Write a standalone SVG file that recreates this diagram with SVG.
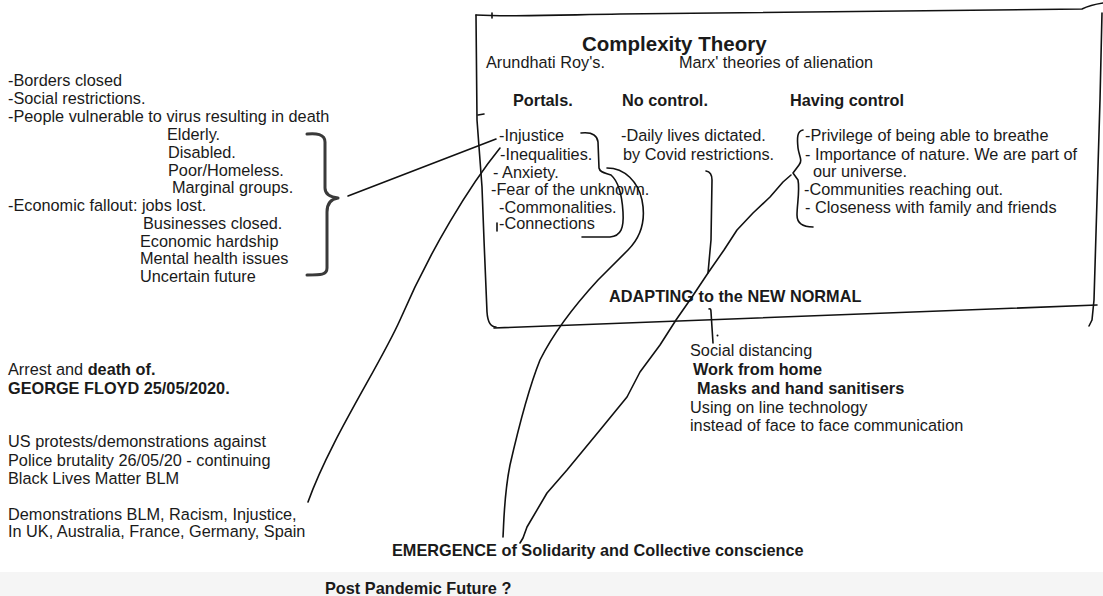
<svg xmlns="http://www.w3.org/2000/svg" width="1103" height="596" viewBox="0 0 1103 596">
<style>
text{font-family:"Liberation Sans",Arial,Helvetica,sans-serif;font-size:16.3px;fill:#1a1a1a}
.b{font-weight:bold}
.h{font-weight:bold;font-size:20.5px}
.ln{fill:none;stroke:#111;stroke-width:1.6;stroke-linecap:round;stroke-linejoin:round}
.br{fill:none;stroke:#3a3a3a;stroke-width:3;stroke-linecap:round;stroke-linejoin:round}
</style>
<rect x="0" y="0" width="1103" height="596" fill="#ffffff"/>
<rect x="0" y="572" width="1103" height="24" fill="#f5f5f5"/>

<g id="box">
<path class="ln" d="M476,15 C520,17 560,15 620,14 C800,12 950,11 1082,9 Q1090,5 1103,3"/>
<path class="ln" d="M492,13 L492,18"/>
<path class="ln" d="M476,15 L477,120 L482,187 L484,240 L487,312 Q488,327 496,327"/>
<path class="ln" d="M478,115 L484,114"/>
<path class="ln" d="M494,328 C700,322 900,314 1097,305"/>
<path class="ln" d="M1102,13 L1100,100 L1097,200 L1094,300 L1092,320 L1089,326"/>
</g>

<g id="left-list">
<text x="8" y="86">-Borders closed</text>
<text x="8" y="104">-Social restrictions.</text>
<text x="8" y="122">-People vulnerable to virus resulting in death</text>
<text x="167" y="140">Elderly.</text>
<text x="168" y="158">Disabled.</text>
<text x="168" y="176">Poor/Homeless.</text>
<text x="172" y="193">Marginal groups.</text>
<text x="8" y="211">-Economic fallout: jobs lost.</text>
<text x="143" y="229">Businesses closed.</text>
<text x="140" y="247">Economic hardship</text>
<text x="140" y="264">Mental health issues</text>
<text x="140" y="282">Uncertain future</text>
<path class="br" d="M307,134 C316,133 325,134 325,142 L325,188 C325,194 330,197 338,198 C331,199 327,204 327,212 L327,268 C327,275 321,275 307,275"/>
</g>

<g id="header">
<text class="h" x="582" y="50.5">Complexity Theory</text>
<text x="486" y="68">Arundhati Roy's.</text>
<text x="679" y="68">Marx' theories of alienation</text>
</g>

<g id="portals">
<text class="b" x="513" y="105.5">Portals.</text>
<text x="499" y="140.5">-Injustice</text>
<text x="500" y="159.5">-Inequalities.</text>
<text x="493" y="177.5">- Anxiety.</text>
<text x="491" y="194.5">-Fear of the unknown.</text>
<text x="499" y="212.5">-Commonalities.</text>
<text x="499" y="228.5">-Connections</text>
<path class="ln" d="M497,223 L497,231"/>
<path class="ln" d="M581,133 C590,132 597,134 598,142 L599,168 C600,173 606,173 611,175 C619,182 622,195 623,212 C624,228 621,236 610,237 L582,237"/>
</g>

<g id="no-control">
<text class="b" x="622" y="105.5">No control.</text>
<text x="621" y="140.5">-Daily lives dictated.</text>
<text x="623" y="159.5">by Covid restrictions.</text>
<path class="ln" d="M706,171 Q712,172 712,180 L711,240 L708,273"/>
</g>

<g id="having-control">
<text class="b" x="790" y="105.5">Having control</text>
<text x="805" y="140.5">-Privilege of being able to breathe</text>
<text x="805" y="159.5">- Importance of nature. We are part of</text>
<text x="813" y="177">our universe.</text>
<text x="804" y="194.5">-Communities reaching out.</text>
<text x="805" y="212.5">- Closeness with family and friends</text>
<path class="ln" d="M803,130 C797,131 797,138 798,148 C799,156 803,160 799,165 L793,173 L798,180 C800,190 797,205 797,215 C797,224 804,227 813,227"/>
</g>

<g id="adapting">
<text class="b" x="609" y="302">ADAPTING to the NEW NORMAL</text>
</g>

<g id="adapting-list">
<path class="ln" d="M709,309 Q711,308 711,312 L713,343"/>
<circle cx="717.5" cy="335.5" r="1" fill="#111"/>
<text x="690" y="355.5">Social distancing</text>
<text class="b" x="693" y="374.5">Work from home</text>
<text class="b" x="697" y="393.5">Masks and hand sanitisers</text>
<text x="690" y="413">Using on line technology</text>
<text x="690" y="430.5">instead of face to face communication</text>
</g>

<g id="george-floyd">
<text x="8" y="375">Arrest and <tspan class="b">death of.</tspan></text>
<text class="b" x="8" y="394">GEORGE FLOYD 25/05/2020.</text>
</g>

<g id="protests">
<text x="8" y="447">US protests/demonstrations against</text>
<text x="8" y="465.5">Police brutality 26/05/20 - continuing</text>
<text x="8" y="484">Black Lives Matter BLM</text>
</g>

<g id="demonstrations">
<text x="8" y="519.5">Demonstrations BLM, Racism, Injustice,</text>
<text x="8" y="537">In UK, Australia, France, Germany, Spain</text>
</g>

<g id="emergence">
<text class="b" x="392" y="555.5">EMERGENCE of Solidarity and Collective conscience</text>
</g>

<g id="post-pandemic">
<text class="b" x="325" y="593.5">Post Pandemic Future ?</text>
</g>

<g id="connectors">
<path class="ln" d="M348,196 Q420,168 496,139"/>
<path class="ln" d="M500,148 C470,185 430,250 400,320 C380,365 330,440 308,502"/>
<path class="ln" d="M607,168 C625,168 638,182 642,200 C646,220 642,236 628,250 L598,280 C575,305 555,330 540,360 C528,390 518,430 510,465 C504,495 504,520 503,537"/>
<path class="ln" d="M791,175 L783,182 L770,197 L753,213 L737,230 L724,250 L708,273 L692,297 L676,320 L660,345 L640,372 L627,397 L600,430 L567,470 L547,493 L527,527 L523,538 L520,543"/>
</g>
</svg>
